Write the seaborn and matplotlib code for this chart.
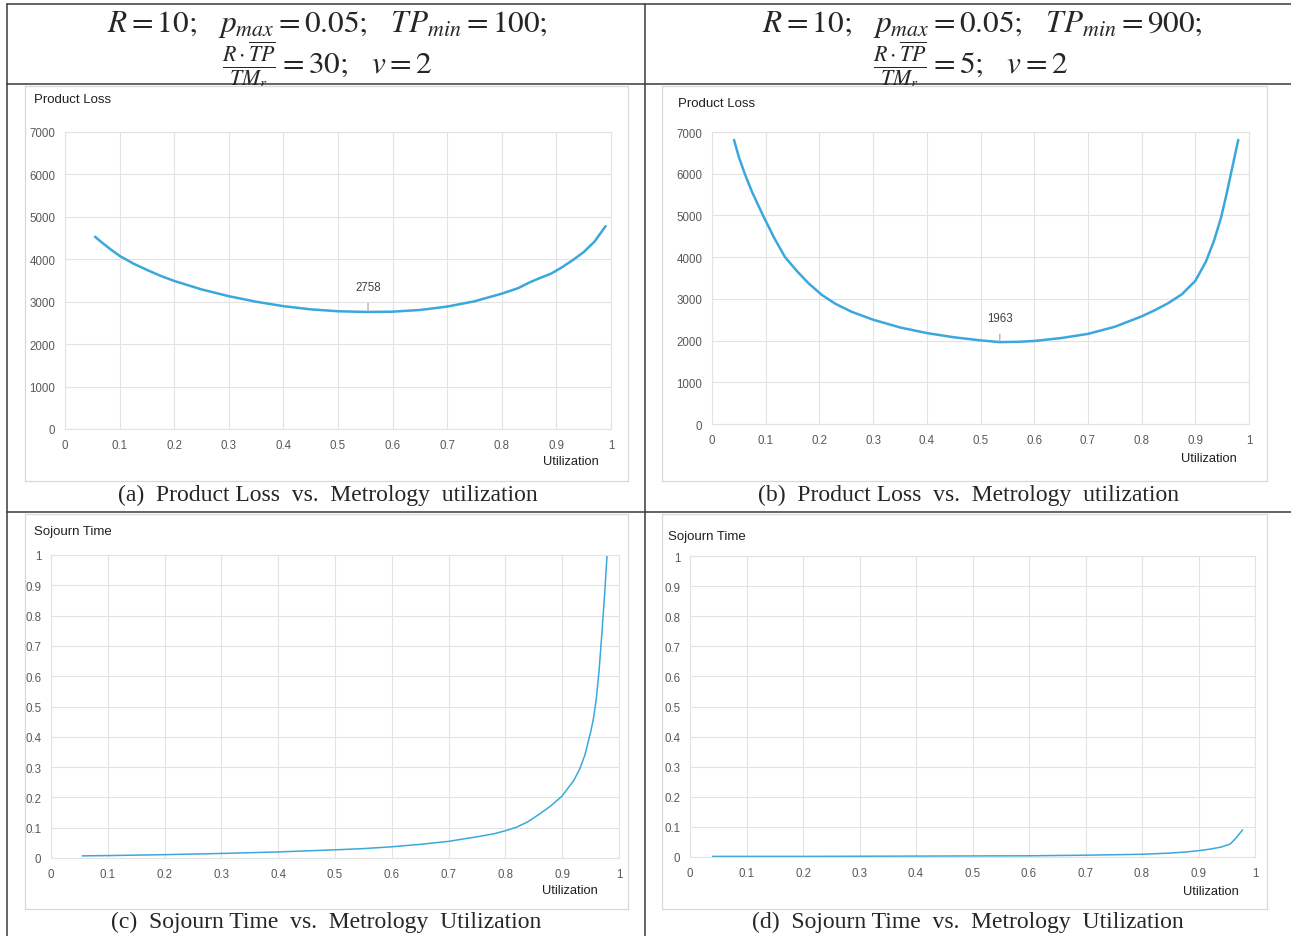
import matplotlib
matplotlib.use("Agg")
import matplotlib.pyplot as plt
from matplotlib.lines import Line2D
import seaborn as sns

# values
util_a = [0.055, 0.07, 0.085, 0.1, 0.125, 0.15, 0.175, 0.2, 0.25, 0.3, 0.35, 0.4, 0.45, 0.5,
          0.555, 0.6, 0.65, 0.7, 0.75, 0.8, 0.83, 0.85, 0.87, 0.89, 0.91, 0.93, 0.95, 0.97, 0.99]
loss_a = [4530, 4370, 4220, 4080, 3900, 3750, 3610, 3490, 3290, 3130, 3000, 2895, 2820, 2775,
          2758, 2765, 2805, 2885, 3010, 3190, 3320, 3450, 3560, 3660, 3810, 3980, 4170, 4420, 4780]

util_b = [0.041, 0.05, 0.061, 0.075, 0.095, 0.115, 0.136, 0.16, 0.18, 0.205, 0.23, 0.26, 0.3,
          0.35, 0.4, 0.45, 0.5, 0.536, 0.57, 0.6, 0.65, 0.7, 0.75, 0.8, 0.825, 0.85, 0.875, 0.9,
          0.92, 0.935, 0.948, 0.958, 0.968, 0.98]
loss_b = [6810, 6400, 6000, 5550, 5000, 4480, 4000, 3640, 3370, 3090, 2880, 2690, 2500,
          2315, 2180, 2080, 2005, 1963, 1970, 1990, 2060, 2160, 2330, 2580, 2730, 2900, 3110, 3430,
          3900, 4400, 4950, 5500, 6100, 6810]

util_c = [0.055, 0.1, 0.2, 0.3, 0.4, 0.5, 0.55, 0.6, 0.65, 0.7, 0.75, 0.78, 0.8, 0.82, 0.84,
          0.86, 0.88, 0.9, 0.91, 0.92, 0.93, 0.94, 0.95, 0.955, 0.96, 0.965, 0.97, 0.975, 0.979]
soj_c = [0.007, 0.008, 0.011, 0.015, 0.02, 0.027, 0.031, 0.037, 0.045, 0.055, 0.07, 0.08, 0.09,
         0.102, 0.12, 0.145, 0.172, 0.205, 0.23, 0.255, 0.29, 0.34, 0.415, 0.46, 0.525, 0.62,
         0.745, 0.88, 1.0]

util_d = [0.04, 0.1, 0.2, 0.3, 0.4, 0.5, 0.6, 0.7, 0.8, 0.85, 0.88, 0.9, 0.92, 0.94, 0.956,
          0.965, 0.978]
soj_d = [0.002, 0.002, 0.002, 0.0025, 0.003, 0.0035, 0.004, 0.006, 0.009, 0.013, 0.017, 0.021,
         0.026, 0.033, 0.043, 0.06, 0.09]

x_ticks = [0, 0.1, 0.2, 0.3, 0.4, 0.5, 0.6, 0.7, 0.8, 0.9, 1]
x_labels = ["0", "0.1", "0.2", "0.3", "0.4", "0.5", "0.6", "0.7", "0.8", "0.9", "1"]
loss_ticks = [0, 1000, 2000, 3000, 4000, 5000, 6000, 7000]
soj_ticks = [0, 0.1, 0.2, 0.3, 0.4, 0.5, 0.6, 0.7, 0.8, 0.9, 1]
soj_labels = x_labels

headers = [
    (r"$R = 10;\;\;\; p_{max} = 0.05;\;\;\; TP_{min} = 100;$",
     r"$\frac{R\cdot\overline{TP}}{TM_r} = 30;\;\;\; v = 2$"),
    (r"$R = 10;\;\;\; p_{max} = 0.05;\;\;\; TP_{min} = 900;$",
     r"$\frac{R\cdot\overline{TP}}{TM_r} = 5;\;\;\; v = 2$"),
]
captions = ["(a)  Product Loss  vs.  Metrology  utilization",
            "(b)  Product Loss  vs.  Metrology  utilization",
            "(c)  Sojourn Time  vs.  Metrology  Utilization",
            "(d)  Sojourn Time  vs.  Metrology  Utilization"]

sns.set_style("white")
plt.rcParams["font.family"] = ["Liberation Sans", "DejaVu Sans"]
plt.rcParams["mathtext.fontset"] = "stix"

W, H = 1291, 937
fig = plt.figure(figsize=(W / 100, H / 100), dpi=100)
LINE = "#3ba7dd"
GRID = "#e3e3e3"
TICK = "#595959"


def frac(x0, y0, x1, y1):
    return [x0 / W, 1 - y1 / H, (x1 - x0) / W, (y1 - y0) / H]


def hline(y, x0, x1):
    fig.add_artist(Line2D([x0 / W, x1 / W], [1 - y / H, 1 - y / H], color="#3a3a3a", lw=1.1, zorder=1))


def vline(x, y0, y1):
    fig.add_artist(Line2D([x / W, x / W], [1 - y0 / H, 1 - y1 / H], color="#3a3a3a", lw=1.1, zorder=1))


# table rules
hline(5, 7, W)
hline(85, 7, W)
hline(513, 7, W)
vline(7, 5, H)
vline(645, 5, H)

# header formulas
for cx1, cx2, (l1, l2) in [(327, 327, headers[0]), (982, 970, headers[1])]:
    fig.text(cx1 / W, 1 - 25 / H, l1, ha="center", va="center", fontsize=22.5, zorder=2)
    fig.text(cx2 / W, 1 - 65 / H, l2, ha="center", va="center", fontsize=22.5, zorder=2)

panels = [
    dict(box=(25, 87, 628, 482), plot=(65, 133, 611, 430), x=util_a, y=loss_a, lw=1.8,
         title="Product Loss", tpos=(34, 100), upos=(571, 462), kind="loss",
         note=(0.555, 2758, 3347)),
    dict(box=(662, 87, 1267, 482), plot=(712, 133, 1249, 425), x=util_b, y=loss_b, lw=1.8,
         title="Product Loss", tpos=(678, 104), upos=(1209, 459), kind="loss",
         note=(0.536, 1963, 2541)),
    dict(box=(25, 515, 628, 910), plot=(51, 556, 619, 859), x=util_c, y=soj_c, lw=1.1,
         title="Sojourn Time", tpos=(34, 532), upos=(570, 891), kind="soj", note=None),
    dict(box=(662, 515, 1267, 910), plot=(690, 557, 1255, 858), x=util_d, y=soj_d, lw=1.1,
         title="Sojourn Time", tpos=(668, 537), upos=(1211, 892), kind="soj", note=None),
]

for p in panels:
    bg = fig.add_axes(frac(*p["box"]))
    bg.set_zorder(4)
    bg.set_xticks([])
    bg.set_yticks([])
    for s in bg.spines.values():
        s.set_color("#d9d9d9")
        s.set_linewidth(0.9)

    ax = fig.add_axes(frac(*p["plot"]))
    ax.set_zorder(5)
    ax.patch.set_alpha(0)
    sns.lineplot(x=p["x"], y=p["y"], ax=ax, color=LINE, lw=p["lw"])
    ax.set_xlim(0, 1)
    ax.set_xticks(x_ticks)
    ax.set_xticklabels(x_labels)
    if p["kind"] == "loss":
        ax.set_ylim(0, 7000)
        ax.set_yticks(loss_ticks)
        ax.set_yticklabels([str(v) for v in loss_ticks])
    else:
        ax.set_ylim(0, 1)
        ax.set_yticks(soj_ticks)
        ax.set_yticklabels(soj_labels)
    ax.grid(True, color=GRID, lw=0.8)
    for s in ax.spines.values():
        s.set_visible(True)
        s.set_color(GRID)
        s.set_linewidth(0.8)
    ax.tick_params(length=0, labelsize=8.3, labelcolor=TICK, pad=7)
    ax.set_xlabel("")
    ax.set_ylabel("")

    if p["note"] is not None:
        nx, ny, ty = p["note"]
        ax.annotate(str(ny), xy=(nx, ny), xytext=(nx, ty), ha="center", va="center",
                    fontsize=8.3, color="#404040",
                    arrowprops=dict(arrowstyle="-", color="#a0a0a0", lw=0.8, shrinkA=5, shrinkB=0))

    fig.text(p["tpos"][0] / W, 1 - p["tpos"][1] / H, p["title"], ha="left", va="center",
             fontsize=9.5, color="#202020", zorder=10)
    fig.text(p["upos"][0] / W, 1 - p["upos"][1] / H, "Utilization", ha="center", va="center",
             fontsize=9.3, color="#202020", zorder=10)

# captions
for (cx, cy), cap in zip([(328, 495), (969, 495), (326, 922), (968, 922)], captions):
    fig.text(cx / W, 1 - cy / H, cap, ha="center", va="center", fontsize=17,
             family=["Liberation Serif", "DejaVu Serif"], zorder=2)

fig.savefig("out.png", dpi=100, facecolor="white")
